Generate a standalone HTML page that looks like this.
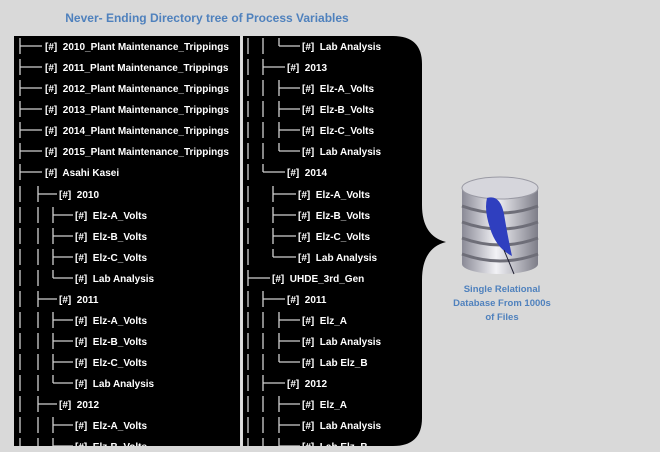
<!DOCTYPE html>
<html><head><meta charset="utf-8"><style>
html,body{margin:0;padding:0;background:#d9d9d9;}
svg{display:block}
text{font-family:"Liberation Sans",sans-serif;white-space:pre;}
.t{fill:#fff;font-size:10px;font-weight:bold;}
.c{stroke:#d0d0d0;stroke-width:1.3;fill:none;}
</style></head><body>
<svg width="660" height="452" viewBox="0 0 660 452" xml:space="preserve">
<defs>
<linearGradient id="g" x1="0" x2="1"><stop offset="0" stop-color="#8a8a96"/><stop offset="0.45" stop-color="#f2f2f6"/><stop offset="1" stop-color="#7d7d88"/></linearGradient>
<clipPath id="L"><rect x="14" y="36" width="226" height="410"/></clipPath>
<clipPath id="R"><rect x="243" y="36" width="180" height="410"/></clipPath>
</defs>
<rect width="660" height="452" fill="#d9d9d9"/>
<text x="207" y="22" text-anchor="middle" font-size="12" font-weight="bold" fill="#4f81bd">Never- Ending Directory tree of Process Variables</text>
<rect x="14" y="36" width="226" height="410" fill="#000"/>
<path d="M243,36 L393,36 Q422,36 422,64 L422,205 Q422,236 446,242 Q422,248 422,280 L422,418 Q422,446 393,446 L243,446 Z" fill="#000"/>
<line x1="241.5" y1="36" x2="241.5" y2="446" stroke="#e0e0e0" stroke-width="1.5"/>
<g clip-path="url(#L)">
<path class="c" d="M20 38V54M20 46H42 M20 59V75M20 67H42 M20 80V96M20 88H42 M20 101V117M20 109H42 M20 122V138M20 130H42 M20 143V159M20 151H42 M20 164V180M20 172H42
M20 186V202M38 186V202M38 194H57
M20 207V223M38 207V223M53 207V223M53 215H73 M20 228V244M38 228V244M53 228V244M53 236H73 M20 249V265M38 249V265M53 249V265M53 257H73 M20 270V286M38 270V286M53 270V278M53 278H73
M20 291V307M38 291V307M38 299H57
M20 312V328M38 312V328M53 312V328M53 320H73 M20 333V349M38 333V349M53 333V349M53 341H73 M20 354V370M38 354V370M53 354V370M53 362H73 M20 375V391M38 375V391M53 375V383M53 383H73
M20 396V412M38 396V412M38 404H57
M20 417V433M38 417V433M53 417V433M53 425H73 M20 438V452M38 438V452M53 438V452M53 446H73"/>
<g class="t">
<text x="45" y="50">[#]  2010_Plant Maintenance_Trippings</text>
<text x="45" y="71">[#]  2011_Plant Maintenance_Trippings</text>
<text x="45" y="92">[#]  2012_Plant Maintenance_Trippings</text>
<text x="45" y="113">[#]  2013_Plant Maintenance_Trippings</text>
<text x="45" y="134">[#]  2014_Plant Maintenance_Trippings</text>
<text x="45" y="155">[#]  2015_Plant Maintenance_Trippings</text>
<text x="45" y="176">[#]  Asahi Kasei</text>
<text x="59" y="198">[#]  2010</text>
<text x="75" y="219">[#]  Elz-A_Volts</text>
<text x="75" y="240">[#]  Elz-B_Volts</text>
<text x="75" y="261">[#]  Elz-C_Volts</text>
<text x="75" y="282">[#]  Lab Analysis</text>
<text x="59" y="303">[#]  2011</text>
<text x="75" y="324">[#]  Elz-A_Volts</text>
<text x="75" y="345">[#]  Elz-B_Volts</text>
<text x="75" y="366">[#]  Elz-C_Volts</text>
<text x="75" y="387">[#]  Lab Analysis</text>
<text x="59" y="408">[#]  2012</text>
<text x="75" y="429">[#]  Elz-A_Volts</text>
<text x="75" y="450">[#]  Elz-B_Volts</text>
</g></g>
<g clip-path="url(#R)">
<path class="c" d="M248 38V54M263 38V54M279 38V46M279 46H300
M248 59V75M263 59V75M263 67H285
M248 80V96M263 80V96M279 80V96M279 88H300 M248 101V117M263 101V117M279 101V117M279 109H300 M248 122V138M263 122V138M279 122V138M279 130H300 M248 143V159M263 143V159M279 143V151M279 151H300
M248 164V180M263 164V172M263 172H285
M248 186V202M273 186V202M273 194H296 M248 207V223M273 207V223M273 215H296 M248 228V244M273 228V244M273 236H296 M248 249V265M273 249V257M273 257H296
M248 270V286M248 278H270
M248 291V307M263 291V307M263 299H285
M248 312V328M263 312V328M279 312V328M279 320H300 M248 333V349M263 333V349M279 333V349M279 341H300 M248 354V370M263 354V370M279 354V362M279 362H300
M248 375V391M263 375V391M263 383H285
M248 396V412M263 396V412M279 396V412M279 404H300 M248 417V433M263 417V433M279 417V433M279 425H300 M248 438V452M263 438V452M279 438V452M279 446H300"/>
<g class="t">
<text x="302" y="50">[#]  Lab Analysis</text>
<text x="287" y="71">[#]  2013</text>
<text x="302" y="92">[#]  Elz-A_Volts</text>
<text x="302" y="113">[#]  Elz-B_Volts</text>
<text x="302" y="134">[#]  Elz-C_Volts</text>
<text x="302" y="155">[#]  Lab Analysis</text>
<text x="287" y="176">[#]  2014</text>
<text x="298" y="198">[#]  Elz-A_Volts</text>
<text x="298" y="219">[#]  Elz-B_Volts</text>
<text x="298" y="240">[#]  Elz-C_Volts</text>
<text x="298" y="261">[#]  Lab Analysis</text>
<text x="272" y="282">[#]  UHDE_3rd_Gen</text>
<text x="287" y="303">[#]  2011</text>
<text x="302" y="324">[#]  Elz_A</text>
<text x="302" y="345">[#]  Lab Analysis</text>
<text x="302" y="366">[#]  Lab Elz_B</text>
<text x="287" y="387">[#]  2012</text>
<text x="302" y="408">[#]  Elz_A</text>
<text x="302" y="429">[#]  Lab Analysis</text>
<text x="302" y="450">[#]  Lab Elz_B</text>
</g></g>
<!-- database -->
<g>
<rect x="462" y="188" width="76" height="76" fill="url(#g)"/>
<ellipse cx="500" cy="264" rx="38" ry="10" fill="url(#g)"/>
<ellipse cx="500" cy="188" rx="38" ry="11" fill="#d6d6dc" stroke="#9a9aa4" stroke-width="1"/>
<path d="M462 206 Q500 220 538 206 M462 222 Q500 236 538 222 M462 238 Q500 252 538 238 M462 254 Q500 268 538 254" stroke="#6e6e78" stroke-width="3" fill="none"/>
<path d="M487 198 Q500 194 504 214 Q508 238 512 256 Q496 248 490 228 Q484 210 487 198Z" fill="#2f3fbf"/>
<line x1="504" y1="250" x2="514" y2="274" stroke="#223" stroke-width="1"/>
</g>
<g font-size="9.5" font-weight="bold" fill="#4f81bd" text-anchor="middle">
<text x="502" y="292">Single Relational</text>
<text x="502" y="306">Database From 1000s</text>
<text x="502" y="320">of Files</text>
</g>
</svg>
</body></html>
